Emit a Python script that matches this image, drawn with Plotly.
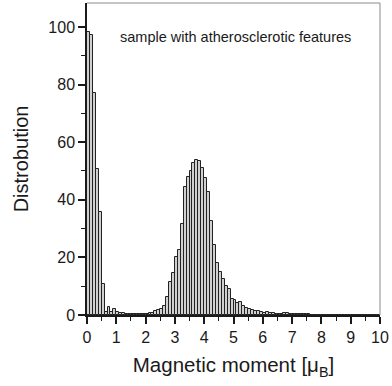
import plotly.graph_objects as go

bin_width = 0.1
bin_starts = [round(i * bin_width, 1) for i in range(100)]
counts = [
    98.4, 97.2, 77.2, 50.6, 35.9, 10.8, 1.0, 2.7, 1.0, 2.0,      # 0.0-0.9
    1.2, 0.7, 0.6, 0.4, 0.3, 0.3, 0.2, 0.3, 0.3, 0.4,            # 1.0-1.9
    0.5, 0.6, 0.8, 1.4, 1.6, 2.2, 3.0, 6.4, 11.5, 14.7,          # 2.0-2.9
    20.3, 22.6, 31.5, 44.6, 48.0, 50.0, 52.9, 53.8, 53.6, 51.2,  # 3.0-3.9
    47.7, 42.6, 32.6, 24.3, 18.2, 14.8, 12.5, 10.2, 9.0, 5.4,    # 4.0-4.9
    5.2, 4.0, 4.6, 3.2, 2.3, 2.1, 1.7, 1.3, 1.3, 1.1,            # 5.0-5.9
    0.8, 0.9, 0.7, 0.8, 0.5, 0.4, 0.5, 0.7, 0.6, 0.4,            # 6.0-6.9
    0.3, 0.3, 0.2, 0.3, 0.2, 0.2, 0.15, 0.1, 0.15, 0.1,          # 7.0-7.9
    0.1, 0.15, 0.1, 0.1, 0.1, 0.15, 0.1, 0.1, 0.1, 0.1,          # 8.0-8.9
    0.1, 0.1, 0.1, 0.1, 0.1, 0.1, 0.1, 0.1, 0.1, 0.1,            # 9.0-9.9
]
x_ticks = list(range(0, 11))
y_ticks = [0, 20, 40, 60, 80, 100]
label_text = "sample with atherosclerotic features"
x_title = "Magnetic moment [μ<sub>B</sub>]"
y_title = "Distrobution"

centers = [s + bin_width / 2 for s in bin_starts]
font = "Arial, Liberation Sans, sans-serif"

fig = go.Figure()
fig.add_trace(go.Bar(
    x=centers, y=counts, width=bin_width,
    marker=dict(color="#d0d0d0", line=dict(color="#222222", width=1)),
    showlegend=False,
))

fig.update_layout(
    width=392, height=386,
    margin=dict(l=87, r=10, t=3, b=71),
    paper_bgcolor="white", plot_bgcolor="white",
    font=dict(family=font, color="#1a1a1a", size=15),
    bargap=0,
    annotations=[dict(
        text=label_text, xref="paper", yref="paper", x=0.508, y=0.923,
        showarrow=False, font=dict(size=14.5, family=font, color="#1a1a1a"),
    )],
    shapes=[
        dict(type="line", xref="paper", yref="paper", x0=0, x1=1, y0=1, y1=1,
             line=dict(color="#8a8a8a", width=1)),
        dict(type="line", xref="paper", yref="paper", x0=1, x1=1, y0=0, y1=1,
             line=dict(color="#8a8a8a", width=1)),
    ],
)

fig.update_xaxes(
    range=[0, 10], tickvals=x_ticks, ticktext=[str(v) for v in x_ticks],
    ticks="outside", ticklen=7, tickwidth=1.5, tickcolor="#1a1a1a",
    showline=True, linecolor="#1a1a1a", linewidth=1.5,
    showgrid=False, zeroline=False,
    minor=dict(dtick=0.5, tick0=0, ticks="outside", ticklen=4, tickwidth=1.2, tickcolor="#1a1a1a"),
    tickfont=dict(size=16),
    title=dict(text=x_title, font=dict(size=20.5), standoff=13),
)
fig.update_yaxes(
    range=[0, 108.3], tickvals=y_ticks, ticktext=[str(v) for v in y_ticks],
    ticks="outside", ticklen=7, tickwidth=1.5, tickcolor="#1a1a1a",
    showline=True, linecolor="#1a1a1a", linewidth=1.5,
    showgrid=False, zeroline=False,
    minor=dict(dtick=10, tick0=0, ticks="outside", ticklen=4, tickwidth=1.2, tickcolor="#1a1a1a"),
    tickfont=dict(size=16),
    title=dict(text=y_title, font=dict(size=20), standoff=14),
)

fig.write_html("out.html")
